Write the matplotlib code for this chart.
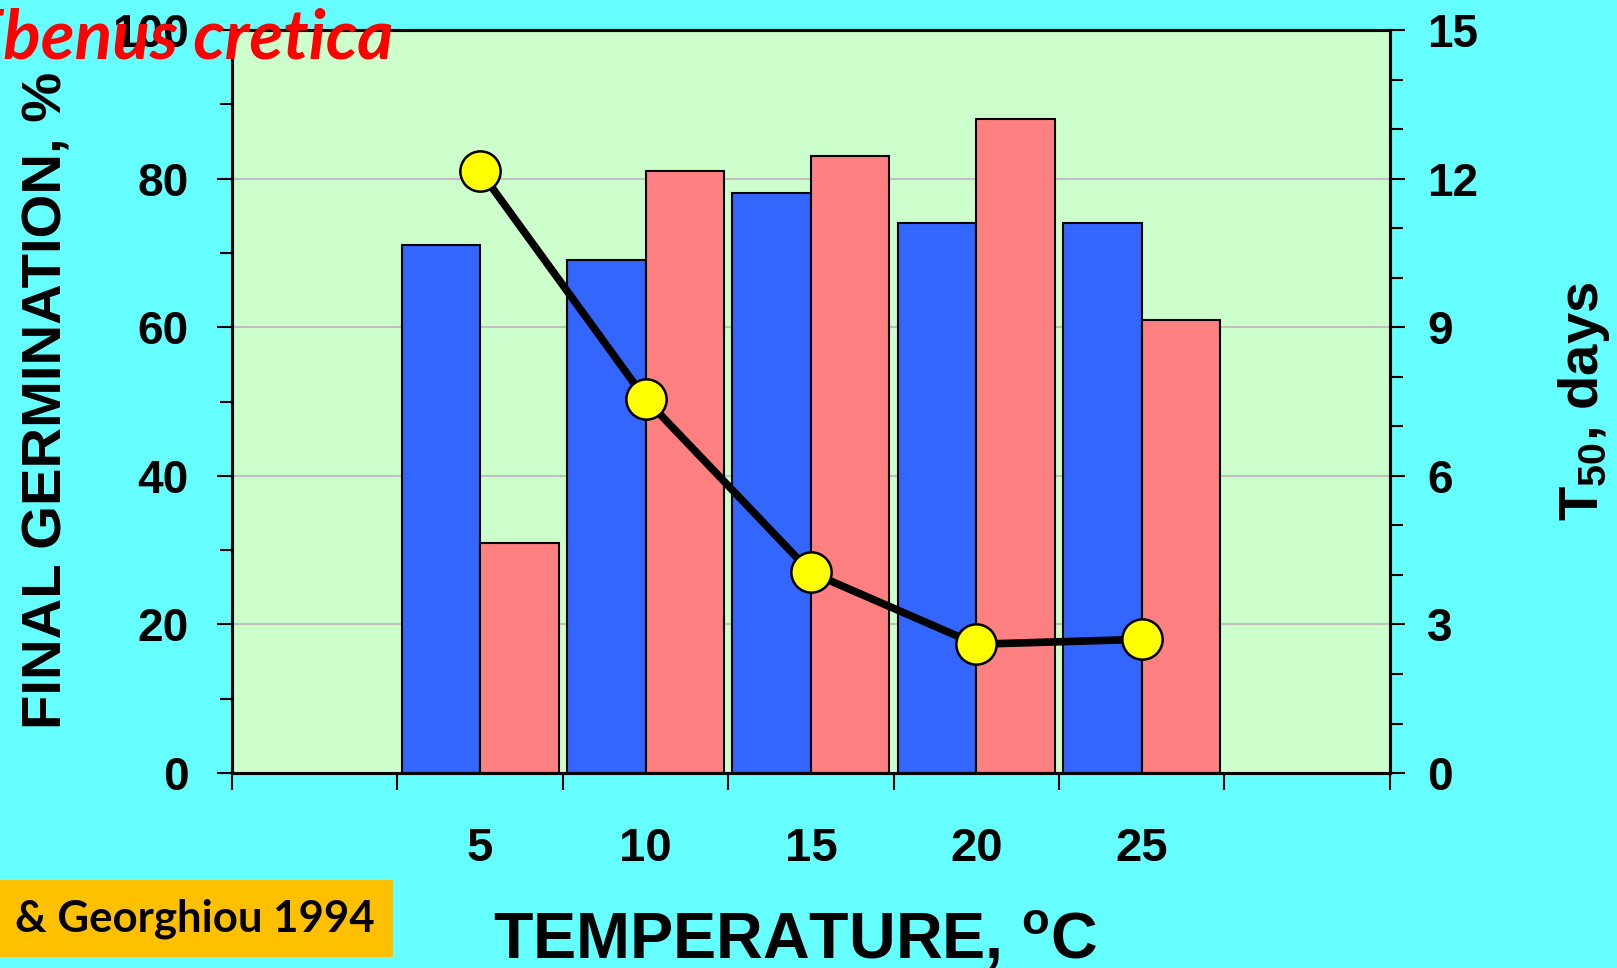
import numpy as np
import matplotlib
matplotlib.use("Agg")
from matplotlib import pyplot as plt
from matplotlib.patches import Rectangle

# data
temps = ["5", "10", "15", "20", "25"]
germ_blue = [71, 69, 78, 74, 74]
germ_red = [31, 81, 83, 88, 61]
t50 = [12.15, 7.55, 4.05, 2.6, 2.7]

plt.rcParams["font.family"] = ["Liberation Sans", "DejaVu Sans"]
plt.rcParams["font.weight"] = "bold"
plt.rcParams["mathtext.fontset"] = "custom"
plt.rcParams["mathtext.rm"] = "Liberation Sans:bold"
plt.rcParams["mathtext.bf"] = "Liberation Sans:bold"
plt.rcParams["mathtext.sf"] = "Liberation Sans"
plt.rcParams["mathtext.default"] = "rm"

bg = "#66FFFF"
fig = plt.figure(figsize=(16.17, 9.68), dpi=100, facecolor=bg)
ax = fig.add_axes([0.1435, 0.2014, 0.716, 0.7676])
ax.set_facecolor("#CCFFCC")

# 7 slots, the outer two stay empty
pos = np.arange(1, len(temps) + 1)
w = 0.475
ax.bar(pos - w, germ_blue, width=w, align="edge", color="#3366FF",
       edgecolor="black", linewidth=1.5, zorder=2)
ax.bar(pos, germ_red, width=w, align="edge", color="#FF8080",
       edgecolor="black", linewidth=1.5, zorder=2)

ax.set_xlim(-0.5, 6.5)
ax.set_ylim(0, 100)
ax.set_yticks(np.arange(0, 101, 20))
ax.set_yticks(np.arange(0, 101, 10), minor=True)
for g in [20, 40, 60, 80]:
    ax.axhline(g, color="#C0C0C0", linewidth=1.5, zorder=1)

ax.set_xticks(pos)
ax.set_xticklabels(temps)
ax.set_xticks(np.arange(-0.5, 7, 1), minor=True)
ax.tick_params(axis="x", which="major", length=0, pad=39, labelsize=34)
ax.tick_params(axis="x", which="minor", length=12, width=1.5, direction="out")
ax.tick_params(axis="y", which="major", length=11, width=1.5, pad=20, labelsize=33)
ax.tick_params(axis="y", which="minor", length=9, width=1.5)
for s in ax.spines.values():
    s.set_linewidth(2.2)

ax2 = ax.twinx()
ax2.plot(pos, t50, color="black", linewidth=5.5, marker="o", markersize=29,
         markerfacecolor="#FFFF00", markeredgecolor="black", markeredgewidth=1.8,
         zorder=5)
ax2.set_ylim(0, 15)
ax2.set_yticks(np.arange(0, 16, 3))
ax2.set_yticks(np.arange(0, 16, 1), minor=True)
ax2.tick_params(axis="y", which="major", length=11, width=1.5, pad=16, labelsize=33)
ax2.tick_params(axis="y", which="minor", length=9, width=1.5)
for s in ax2.spines.values():
    s.set_linewidth(2.2)

# axis titles
fig.text(48 / 1617, 1 - 400 / 968, "FINAL GERMINATION, %", rotation=90,
         ha="center", va="center", fontsize=40.5, fontweight="bold")
fig.text(1584 / 1617, 1 - 401 / 968, r"T$_{\mathsf{50}}$, days", rotation=90,
         ha="center", va="center", fontsize=40.5, fontweight="bold")
fig.text(795 / 1617, 1 - 959 / 968, r"TEMPERATURE, $^{\mathbf{o}}$C",
         ha="center", va="baseline", fontsize=46.5, fontweight="bold")

# species name, cut at the left edge
fig.text(393 / 1617, 1 - 39 / 968, "Ebenus cretica", ha="right", va="center",
         color="red", fontsize=50, fontweight="bold", style="italic",
         family=["Lato", "DejaVu Sans"])

# source box
fig.add_artist(Rectangle((0, 1 - 957 / 968), 393 / 1617, 77 / 968,
                         transform=fig.transFigure, facecolor="#FFC000",
                         edgecolor="none"))
fig.text(15 / 1617, 1 - 919 / 968, "& Georghiou 1994", ha="left", va="center",
         fontsize=31.5, fontweight="bold", family=["Lato", "DejaVu Sans"])

plt.savefig("out.png", dpi=100, facecolor=bg)
